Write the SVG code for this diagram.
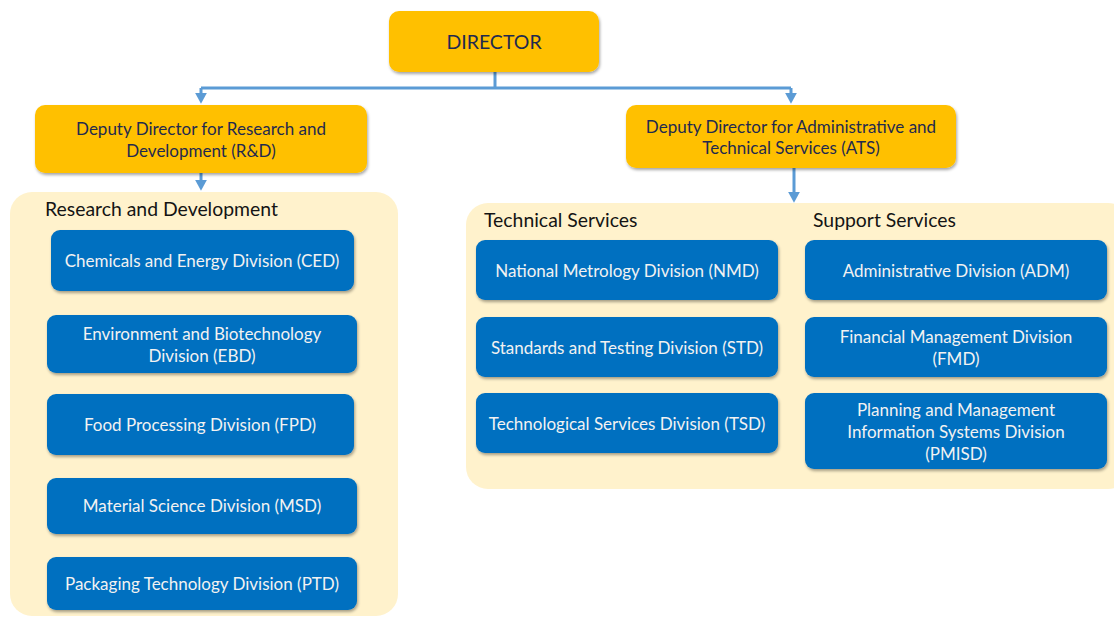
<svg xmlns="http://www.w3.org/2000/svg" width="1114" height="617" viewBox="0 0 1114 617">
<defs>
<filter id="sh" x="-10%" y="-10%" width="120%" height="130%">
<feDropShadow dx="1" dy="2" stdDeviation="1.5" flood-color="#000" flood-opacity="0.35"/>
</filter>
<marker id="ah" markerWidth="12" markerHeight="12" refX="3" refY="5.5" orient="auto" markerUnits="userSpaceOnUse" viewBox="0 0 11 11">
<path d="M0,0 L10,5.5 L0,11 Z" fill="#5b9bd5"/>
</marker>
<style>
.bg{fill:#fff2cc}
.y{fill:#ffc000;filter:url(#sh)}
.b{fill:#0070c0;filter:url(#sh)}
.ty{font-family:Lato,"Open Sans",sans-serif;font-size:17px;fill:#1f2a4f;text-anchor:middle}
.tb{font-family:Lato,"Open Sans",sans-serif;font-size:17px;fill:#f2f2f2;text-anchor:middle}
.tt{font-family:Lato,"Open Sans",sans-serif;font-size:19.4px;fill:#141414}
.c{fill:none;stroke:#5b9bd5;stroke-width:3}
</style>
</defs>
<rect width="1114" height="617" fill="#fff"/>
<g id="group-rd"><rect class="bg" x="10" y="192" width="388" height="424" rx="22"/>
<text class="tt" x="45" y="216">Research and Development</text></g>
<g id="group-ats"><rect class="bg" x="466" y="203" width="664" height="286" rx="22"/>
<text class="tt" x="484" y="227">Technical Services</text>
<text class="tt" x="813" y="227">Support Services</text></g>
<g id="connectors">
<path class="c" d="M495,72 V88"/>
<path class="c" d="M201,88 H791"/>
<path class="c" d="M201,88 V96" marker-end="url(#ah)"/>
<path class="c" d="M791,88 V96" marker-end="url(#ah)"/>
<path class="c" d="M201,173 V183" marker-end="url(#ah)"/>
<path class="c" d="M794,168 V195" marker-end="url(#ah)"/>
</g>
<g id="director"><rect class="y" x="389" y="11" width="210" height="61" rx="10"/>
<text class="ty" x="494" y="49" style="font-size:19.5px">DIRECTOR</text></g>
<g id="dd-rd"><rect class="y" x="35" y="105" width="332" height="68" rx="10"/>
<text class="ty" x="201" y="135">Deputy Director for Research and</text>
<text class="ty" x="201" y="157">Development (R&amp;D)</text></g>
<g id="dd-ats"><rect class="y" x="626" y="105" width="330" height="63" rx="10"/>
<text class="ty" x="791" y="133">Deputy Director for Administrative and</text>
<text class="ty" x="791" y="154">Technical Services (ATS)</text></g>
<g id="ced"><rect class="b" x="51" y="230" width="303" height="61" rx="9"/>
<text class="tb" x="202" y="267">Chemicals and Energy Division (CED)</text></g>
<g id="ebd"><rect class="b" x="47" y="315" width="310" height="58" rx="9"/>
<text class="tb" x="202" y="340">Environment and Biotechnology</text>
<text class="tb" x="202" y="362">Division (EBD)</text></g>
<g id="fpd"><rect class="b" x="47" y="394" width="307" height="61" rx="9"/>
<text class="tb" x="200" y="431">Food Processing Division (FPD)</text></g>
<g id="msd"><rect class="b" x="47" y="478" width="310" height="56" rx="9"/>
<text class="tb" x="202" y="512">Material Science Division (MSD)</text></g>
<g id="ptd"><rect class="b" x="47" y="557" width="310" height="53" rx="9"/>
<text class="tb" x="202" y="590">Packaging Technology Division (PTD)</text></g>
<g id="nmd"><rect class="b" x="476" y="240" width="302" height="60" rx="9"/>
<text class="tb" x="627" y="277">National Metrology Division (NMD)</text></g>
<g id="std"><rect class="b" x="476" y="317" width="302" height="60" rx="9"/>
<text class="tb" x="627" y="354">Standards and Testing Division (STD)</text></g>
<g id="tsd"><rect class="b" x="476" y="393" width="302" height="60" rx="9"/>
<text class="tb" x="627" y="430">Technological Services Division (TSD)</text></g>
<g id="adm"><rect class="b" x="805" y="240" width="302" height="60" rx="9"/>
<text class="tb" x="956" y="277">Administrative Division (ADM)</text></g>
<g id="fmd"><rect class="b" x="805" y="317" width="302" height="60" rx="9"/>
<text class="tb" x="956" y="343">Financial Management Division</text>
<text class="tb" x="956" y="365">(FMD)</text></g>
<g id="pmisd"><rect class="b" x="805" y="393" width="302" height="76" rx="9"/>
<text class="tb" x="956" y="416">Planning and Management</text>
<text class="tb" x="956" y="438">Information Systems Division</text>
<text class="tb" x="956" y="460">(PMISD)</text></g>
</svg>
